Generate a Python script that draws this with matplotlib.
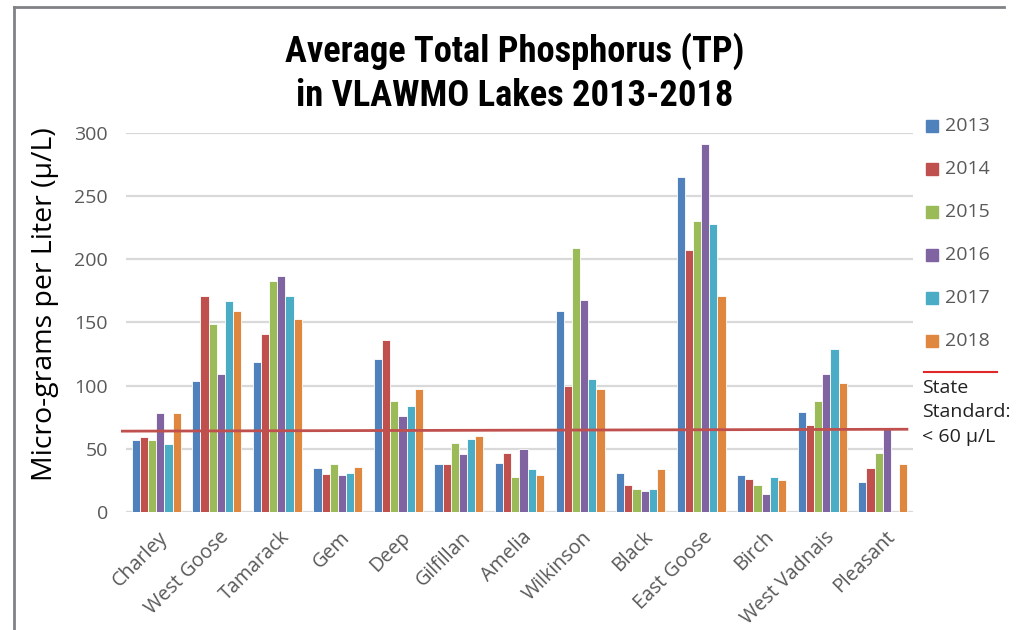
import numpy as np
import matplotlib
matplotlib.use("Agg")
import matplotlib.pyplot as plt
from matplotlib.patches import Rectangle
from matplotlib.lines import Line2D
from matplotlib.transforms import ScaledTranslation

# lakes on the x axis
lakes = ["Charley", "West Goose", "Tamarack", "Gem", "Deep", "Gilfillan", "Amelia",
         "Wilkinson", "Black", "East Goose", "Birch", "West Vadnais", "Pleasant"]
years = ["2013", "2014", "2015", "2016", "2017", "2018"]

# average TP (micro-grams per liter), one list per year
tp_2013 = [57, 104, 119, 35, 121, 38, 39, 159, 31, 265, 29, 79, 24]
tp_2014 = [59, 171, 141, 30, 136, 38, 47, 100, 21, 207, 26, 69, 35]
tp_2015 = [57, 149, 183, 38, 88, 55, 28, 209, 18, 230, 21, 88, 47]
tp_2016 = [78, 109, 187, 29, 76, 46, 50, 168, 17, 291, 14, 109, 66]
tp_2017 = [54, 167, 171, 31, 84, 58, 34, 105, 18, 228, 28, 129, np.nan]
tp_2018 = [78, 159, 153, 36, 97, 60, 29, 97, 34, 171, 25, 102, 38]
series = [tp_2013, tp_2014, tp_2015, tp_2016, tp_2017, tp_2018]

# state standard line as drawn (left end, right end)
standard = [64, 65.5]
yticks = [0, 50, 100, 150, 200, 250, 300]

colors = ["#4F81BD", "#C0504D", "#9BBB59", "#8064A2", "#4BACC6", "#E0873F"]

plt.rcParams["font.family"] = ["Open Sans", "DejaVu Sans"]
title_fam = ["DejaVu Sans Condensed", "Liberation Sans Narrow", "Roboto Condensed",
             "Open Sans Condensed", "DejaVu Sans"]

fig = plt.figure(figsize=(10.3, 6.3), dpi=100)
ax = fig.add_axes([0.1223, 0.1873, 0.7641, 0.6016])

x = np.arange(len(lakes))
w = 0.135
for i, vals in enumerate(series):
    ax.bar(x + (i - 2.5) * w, vals, width=w, color=colors[i],
           edgecolor="white", linewidth=0.6, zorder=3)

ax.plot([-0.56, 12.4], standard, color="#C0504D", lw=2, zorder=4, clip_on=False)

ax.set_xlim(-0.5, len(lakes) - 0.5)
ax.set_ylim(0, 300)
ax.set_yticks(yticks)
ax.yaxis.grid(True, color="#d9d9d9", lw=1.6, zorder=0)
ax.set_axisbelow(True)
for s in ax.spines.values():
    s.set_visible(False)
ax.tick_params(axis="both", length=0, colors="#595959")
ax.tick_params(axis="y", pad=13, labelsize=14)
ax.set_xticks(x)
ax.set_xticklabels(lakes, rotation=45, ha="right", rotation_mode="anchor",
                   fontsize=14.2, color="#595959")
ax.tick_params(axis="x", pad=11)
shift = ScaledTranslation(2 / 100, 0, fig.dpi_scale_trans)
for lbl in ax.get_xticklabels():
    lbl.set_transform(lbl.get_transform() + shift)

fig.text(45 / 1030, 1 - 304 / 630, "Micro-grams per Liter (\u00b5/L)", rotation=90,
         ha="center", va="center", fontsize=20.5, color="#000000")

fig.text(0.5, 1 - 51 / 630, "Average Total Phosphorus (TP)", ha="center", va="center",
         fontsize=26.3, fontweight="bold", fontstretch="condensed", family=title_fam)
fig.text(0.5, 1 - 96 / 630, "in VLAWMO Lakes 2013-2018", ha="center", va="center",
         fontsize=26.3, fontweight="bold", fontstretch="condensed", family=title_fam)

# legend drawn by hand on the right
for i, yr in enumerate(years):
    yc = 1 - (126 + 43 * i) / 630
    fig.patches.append(Rectangle((926 / 1030, yc - 6 / 630), 12 / 1030, 12 / 630,
                                 transform=fig.transFigure, color=colors[i]))
    fig.text(945 / 1030, yc, yr, va="center", ha="left", fontsize=14, color="#595959")
fig.lines.append(Line2D([924 / 1030, 997 / 1030], [1 - 372 / 630] * 2,
                        transform=fig.transFigure, color="#E0282B", lw=1.5))
fig.text(922 / 1030, 1 - 379 / 630, "State\nStandard:\n< 60 \u00b5/L", va="top", ha="left",
         fontsize=14, color="#222222", linespacing=1.45)

# outer frame (top and left edges)
fig.lines.append(Line2D([14 / 1030, 1004 / 1030], [1 - 7 / 630] * 2,
                        transform=fig.transFigure, color="#808285", lw=2))
fig.lines.append(Line2D([14 / 1030, 14 / 1030], [0, 1 - 7 / 630],
                        transform=fig.transFigure, color="#808285", lw=2))

fig.savefig("out.png", dpi=100, facecolor="white")
